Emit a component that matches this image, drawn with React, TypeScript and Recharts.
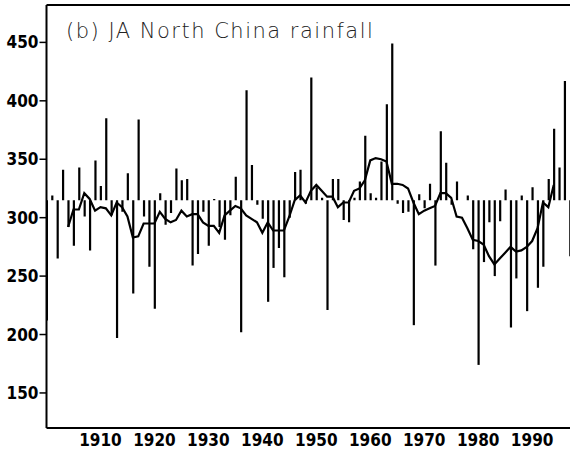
import { Bar, ComposedChart, Line, ReferenceLine, XAxis, YAxis } from 'recharts'

// July–August North China rainfall (mm), 1900–1997
const START_YEAR = 1900
const rainfall = [
    212, 319, 265, 341, 292, 276, 343, 301, 272, 349,
    327, 385, 302, 197, 305, 338, 235, 384, 301, 258,
    222, 321, 294, 304, 342, 332, 333, 259, 269, 305,
    276, 316, 292, 281, 302, 335, 202, 409, 345, 311,
    299, 228, 257, 274, 249, 300, 339, 341, 312, 420,
    326, 317, 221, 333, 333, 298, 296, 317, 331, 370,
    321, 317, 348, 397, 449, 312, 304, 305, 208, 320,
    308, 329, 259, 374, 347, 311, 331, 315, 319, 273,
    174, 262, 296, 250, 297, 324, 206, 248, 319, 220,
    326, 240, 258, 333, 376, 343, 417, 267
]

// 9-year running mean, 1904–1994
const SMOOTH_START = 1904
const smoothed = [
    292, 307, 307, 321, 316, 306, 309, 308, 302, 313,
    309, 301, 283, 284, 295, 295, 295, 305, 299, 296,
    298, 306, 301, 303, 303, 296, 293, 293, 287, 302,
    306, 310, 308, 302, 299, 296, 287, 296, 289, 289,
    289, 301, 315, 319, 313, 323, 328, 323, 318, 318,
    309, 313, 313, 323, 325, 332, 349, 351, 350, 348,
    329, 329, 328, 325, 313, 303, 306, 308, 310, 321,
    321, 317, 301, 300, 291, 281, 280, 277, 267, 260,
    265, 270, 275, 271, 272, 275, 280, 291, 313, 309,
    328
]

// bars hang from the long-term level
const BASELINE = 315

const yTicks = [150, 200, 250, 300, 350, 400, 450]
const xTicks = [1910, 1920, 1930, 1940, 1950, 1960, 1970, 1980, 1990]

const data = rainfall.map((v, i) => {
    const year = START_YEAR + i
    const s = year - SMOOTH_START
    return {
        year,
        bar: [Math.min(v, BASELINE), Math.max(v, BASELINE)],
        smooth: s >= 0 && s < smoothed.length ? smoothed[s] : null
    }
})

const tickFont = {
    fontFamily: '"Liberation Sans Narrow", "DejaVu Sans Condensed", sans-serif',
    fontSize: 17,
    fontWeight: 'bold',
    fill: '#000'
}

export default function App() {
    return (
        <div style={{ position: 'absolute', left: 0, top: 0, width: 570, height: 451, overflow: 'hidden', background: '#fff' }}>
            <ComposedChart
                width={571}
                height={451}
                data={data}
                margin={{ top: 5, right: 0, left: 0, bottom: 0 }}>
                <XAxis
                    dataKey="year"
                    type="number"
                    domain={[1900, 1997.2]}
                    ticks={xTicks}
                    allowDataOverflow={true}
                    height={23}
                    tick={tickFont}
                    tickLine={false}
                    tickSize={0}
                    tickMargin={6}
                    axisLine={{ stroke: '#000', strokeWidth: 2 }}
                />
                <YAxis
                    domain={[120, 482]}
                    ticks={yTicks}
                    allowDataOverflow={true}
                    width={46.5}
                    tick={tickFont}
                    tickSize={7}
                    tickMargin={1}
                    tickLine={{ stroke: '#000', strokeWidth: 1.5 }}
                    axisLine={{ stroke: '#000', strokeWidth: 2 }}
                />
                <ReferenceLine y={482} stroke="#000" strokeWidth={2} />
                <Bar dataKey="bar" fill="#000" barSize={2.2} isAnimationActive={false} />
                <Line type="linear" dataKey="smooth" stroke="#000" strokeWidth={2.2} dot={false}
                      isAnimationActive={false} />
            </ComposedChart>
            <svg width={570} height={451} style={{ position: 'absolute', left: 0, top: 0, pointerEvents: 'none' }}>
                <text x={66} y={38} fontFamily='"DejaVu Sans", sans-serif' fontSize={21} fontWeight={200}
                      letterSpacing={1.5} fill="#222">
                    (b) JA North China rainfall
                </text>
            </svg>
        </div>
    )
}
